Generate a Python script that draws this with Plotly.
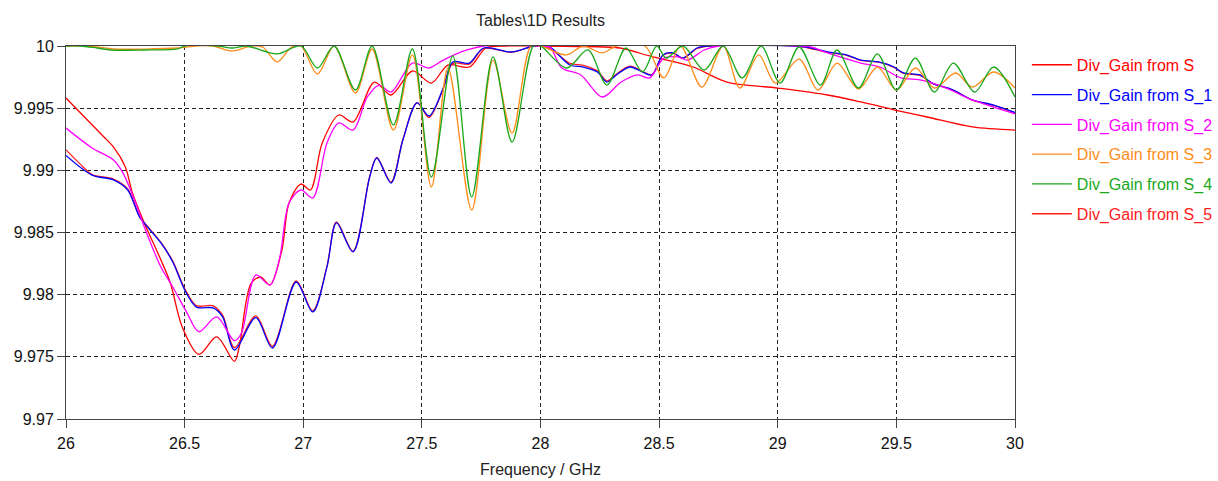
import plotly.graph_objects as go

# Frequency axis ticks and gain axis ticks
x_ticks = [26, 26.5, 27, 27.5, 28, 28.5, 29, 29.5, 30]
x_tick_labels = ["26", "26.5", "27", "27.5", "28", "28.5", "29", "29.5", "30"]
y_ticks = [9.97, 9.975, 9.98, 9.985, 9.99, 9.995, 10]
y_tick_labels = ["9.97", "9.975", "9.98", "9.985", "9.99", "9.995", "10"]

# Div_Gain from S
f_s = [26.0, 26.09, 26.16, 26.20, 26.25, 26.28, 26.33, 26.40, 26.44, 26.49, 26.56, 26.635,
       26.71, 26.73, 26.78, 26.82, 26.86, 26.91, 26.94, 26.99, 27.03, 27.08, 27.15, 27.21,
       27.30, 27.37, 27.46, 27.54, 27.61, 27.70, 27.77, 27.85, 28.0, 28.2, 28.335, 28.474,
       28.643, 28.786, 29.0, 29.21, 29.35, 29.494, 29.63, 29.82, 30.0]
g_s = [9.99582, 9.99405, 9.99268, 9.99188, 9.99027, 9.98818, 9.98577, 9.98279, 9.98094,
       9.97740, 9.97520, 9.97660, 9.97464, 9.97579, 9.98090, 9.98142, 9.98078, 9.98359,
       9.98737, 9.98890, 9.98842, 9.99220, 9.99445, 9.99389, 9.99710, 9.99606, 9.99799,
       9.99702, 9.99847, 9.99831, 9.99984, 10.0, 10.0, 9.99995, 9.99984, 9.99912, 9.99831,
       9.99710, 9.99662, 9.99606, 9.99550, 9.99485, 9.99429, 9.99349, 9.99324]

# Div_Gain from S_1
f_s1 = [26.0, 26.11, 26.20, 26.26, 26.31, 26.35, 26.40, 26.45, 26.50, 26.55, 26.62, 26.66,
        26.71, 26.80, 26.87, 26.97, 27.04, 27.10, 27.14, 27.21, 27.28, 27.31, 27.37, 27.42,
        27.48, 27.53, 27.59, 27.63, 27.70, 27.76, 27.88, 27.97, 28.0, 28.04, 28.124, 28.18,
        28.24, 28.28, 28.32, 28.377, 28.43, 28.47, 28.516, 28.56, 28.60, 28.66, 28.71, 29.08,
        29.12, 29.21, 29.29, 29.35, 29.43, 29.49, 29.53, 29.60, 29.65, 29.74, 29.82, 29.91, 30.0]
g_s1 = [9.99120, 9.98962, 9.98923, 9.98842, 9.98625, 9.98530, 9.98416, 9.98263, 9.98040,
        9.97900, 9.97893, 9.97821, 9.97555, 9.97815, 9.97571, 9.98102, 9.97861, 9.98223,
        9.98577, 9.98344, 9.98947, 9.99099, 9.98898, 9.99244, 9.99542, 9.99437, 9.99662,
        9.99871, 9.99863, 9.99984, 9.99952, 10.0, 10.0, 9.99992, 9.99847, 9.99831, 9.99791,
        9.99710, 9.99767, 9.99831, 9.99791, 9.99767, 9.99928, 9.99944, 9.99903, 9.99984,
        10.0, 10.0, 9.99992, 9.99952, 9.99928, 9.99887, 9.99871, 9.99831, 9.99783, 9.99767,
        9.99702, 9.99646, 9.99566, 9.99525, 9.99465]

# Div_Gain from S_2
f_s2 = [26.0, 26.11, 26.20, 26.24, 26.30, 26.33, 26.40, 26.45, 26.51, 26.56, 26.635, 26.71,
        26.74, 26.80, 26.86, 26.90, 26.94, 26.99, 27.04, 27.10, 27.15, 27.21, 27.27, 27.32,
        27.37, 27.46, 27.53, 27.59, 27.69, 27.76, 28.0, 28.04, 28.09, 28.17, 28.26, 28.34,
        28.41, 28.46, 28.52, 28.58, 28.62, 28.69, 28.75, 29.10, 29.14, 29.21, 29.35, 29.43,
        29.52, 29.60, 29.71, 29.82, 29.91, 30.0]
g_s2 = [9.99340, 9.99180, 9.99083, 9.98979, 9.98705, 9.98545, 9.98223, 9.98062, 9.97853,
        9.97702, 9.97821, 9.97630, 9.97692, 9.98158, 9.98078, 9.98290, 9.98737, 9.98842,
        9.98778, 9.99220, 9.99381, 9.99324, 9.99590, 9.99686, 9.99630, 9.99863, 9.99823,
        9.99887, 9.99968, 10.0, 10.0, 9.99990, 9.99823, 9.99767, 9.99590, 9.99710, 9.99767,
        9.99743, 9.99903, 9.99912, 9.99887, 9.99968, 10.0, 10.0, 9.99992, 9.99944, 9.99863,
        9.99831, 9.99743, 9.99727, 9.99662, 9.99566, 9.99509, 9.99455]

# Div_Gain from S_3
f_s3 = [26.0, 26.08, 26.13, 26.20, 26.47, 26.55, 26.62, 26.70, 26.78, 26.83, 26.89, 26.95,
        26.99, 27.06, 27.13, 27.22, 27.29, 27.38, 27.46, 27.54, 27.61, 27.71, 27.80, 27.88,
        27.96, 28.0, 28.11, 28.18, 28.26, 28.32, 28.44, 28.52, 28.59, 28.68, 28.77, 28.84,
        28.92, 28.99, 29.09, 29.17, 29.25, 29.34, 29.42, 29.50, 29.58, 29.66, 29.75, 29.82,
        29.91, 30.0]
g_s3 = [10.0, 10.0, 9.99992, 9.99976, 9.99984, 10.0, 10.0, 9.99960, 10.0, 9.99990, 9.99871,
        9.99990, 10.0, 9.99775, 10.0, 9.99622, 9.99976, 9.99324, 9.99928, 9.98866, 9.99823,
        9.98681, 9.99887, 9.99300, 10.0, 10.0, 9.99928, 10.0, 9.99944, 10.0, 10.0, 9.99743,
        10.0, 9.99670, 10.0, 9.99662, 9.99928, 9.99702, 9.99895, 9.99646, 9.99863, 9.99654,
        9.99831, 9.99646, 9.99823, 9.99662, 9.99783, 9.99670, 9.99791, 9.99662]

# Div_Gain from S_4
f_s4 = [26.0, 26.06, 26.13, 26.19, 26.33, 26.47, 26.50, 26.64, 26.70, 26.76, 26.89, 26.99,
        27.06, 27.13, 27.22, 27.29, 27.38, 27.46, 27.54, 27.63, 27.71, 27.80, 27.88, 27.97,
        28.0, 28.11, 28.20, 28.28, 28.36, 28.43, 28.49, 28.53, 28.60, 28.69, 28.77, 28.85,
        28.93, 29.01, 29.09, 29.18, 29.25, 29.34, 29.42, 29.50, 29.58, 29.66, 29.74, 29.83,
        29.91, 30.0]
g_s4 = [10.0, 10.0, 9.99984, 9.99968, 9.99968, 9.99976, 10.0, 10.0, 9.99984, 10.0, 9.99936,
        10.0, 9.99823, 10.0, 9.99646, 10.0, 9.99365, 9.99976, 9.98946, 9.99920, 9.98786,
        9.99912, 9.99228, 10.0, 10.0, 9.99823, 9.99968, 9.99686, 9.99984, 9.99791, 10.0,
        9.99903, 10.0, 9.99807, 10.0, 9.99743, 10.0, 9.99702, 9.99992, 9.99686, 9.99968,
        9.99662, 9.99936, 9.99646, 9.99903, 9.99630, 9.99863, 9.99630, 9.99831, 9.99590]

# Div_Gain from S_5
f_s5 = [26.0, 26.06, 26.11, 26.20, 26.26, 26.31, 26.35, 26.40, 26.45, 26.50, 26.55, 26.62,
        26.66, 26.71, 26.80, 26.87, 26.97, 27.04, 27.10, 27.14, 27.21, 27.28, 27.31, 27.37,
        27.42, 27.48, 27.53, 27.59, 27.63, 27.70, 27.76, 27.88, 27.97, 28.0, 28.04, 28.124,
        28.18, 28.24, 28.28, 28.32, 28.377, 28.43, 28.47, 28.516, 28.56, 28.60, 28.66, 28.71,
        29.08, 29.12, 29.21, 29.29, 29.35, 29.43, 29.49, 29.53, 29.60, 29.65, 29.74, 29.82,
        29.91, 30.0]
g_s5 = [9.99164, 9.99050, 9.98965, 9.98930, 9.98850, 9.98630, 9.98535, 9.98420, 9.98270,
        9.98050, 9.97912, 9.97910, 9.97835, 9.97575, 9.97830, 9.97585, 9.98110, 9.97870,
        9.98230, 9.98585, 9.98350, 9.98950, 9.99105, 9.98905, 9.99250, 9.99545, 9.99425,
        9.99655, 9.99860, 9.99855, 9.99980, 9.99950, 10.0, 10.0, 9.99980, 9.99860, 9.99845,
        9.99800, 9.99720, 9.99775, 9.99838, 9.99795, 9.99770, 9.99925, 9.99940, 9.99900,
        9.99980, 10.0, 10.0, 9.99988, 9.99948, 9.99925, 9.99885, 9.99868, 9.99828, 9.99780,
        9.99763, 9.99700, 9.99644, 9.99564, 9.99522, 9.99462]

FONT = "Liberation Sans, Arial, sans-serif"

series = [
    ("Div_Gain from S", f_s, g_s, "#ff0000", 1),
    ("Div_Gain from S_5", f_s5, g_s5, "#ff2020", 6),
    ("Div_Gain from S_1", f_s1, g_s1, "#0000ff", 2),
    ("Div_Gain from S_2", f_s2, g_s2, "#ff00ff", 3),
    ("Div_Gain from S_3", f_s3, g_s3, "#ff8c1a", 4),
    ("Div_Gain from S_4", f_s4, g_s4, "#1aa81a", 5),
]

fig = go.Figure()
for name, fx, gy, color, rank in series:
    fig.add_trace(go.Scatter(
        x=fx, y=gy, mode="lines",
        line=dict(color=color, width=1.3, shape="spline", smoothing=0.9),
        name=f"<span style='color:{color}'>{name}</span>",
        legendgroup=name, legendrank=rank,
    ))

axis_common = dict(
    showline=True, linecolor="#444444", linewidth=1, mirror=True,
    showgrid=True, gridcolor="#222222", gridwidth=1, griddash="4px,3px",
    ticks="outside", ticklen=8, tickcolor="#444444", tickwidth=1,
    zeroline=False,
    tickfont=dict(family=FONT, size=16, color="#111111"),
)

fig.update_xaxes(
    range=[26, 30], tickvals=x_ticks, ticktext=x_tick_labels,
    title=dict(text="Frequency / GHz", font=dict(family=FONT, size=16, color="#222222"),
               standoff=12),
    ticklabelstandoff=2,
    **axis_common,
)
fig.update_yaxes(range=[9.97, 10], tickvals=y_ticks, ticktext=y_tick_labels, **axis_common)

fig.update_layout(
    width=1218, height=481,
    margin=dict(l=66, r=203, t=46, b=62, autoexpand=False),
    paper_bgcolor="white", plot_bgcolor="white",
    title=dict(text="Tables\\1D Results", x=(66 + 1015) / 2 / 1218, xanchor="center",
               y=1 - 20 / 481, yanchor="middle", yref="container",
               font=dict(family=FONT, size=16, color="#222222")),
    legend=dict(x=1.0125, y=0.995, xanchor="left", yanchor="top",
                font=dict(family=FONT, size=16), tracegroupgap=6,
                bgcolor="rgba(0,0,0,0)", itemwidth=40),
    showlegend=True,
)

fig.write_html("out.html")
